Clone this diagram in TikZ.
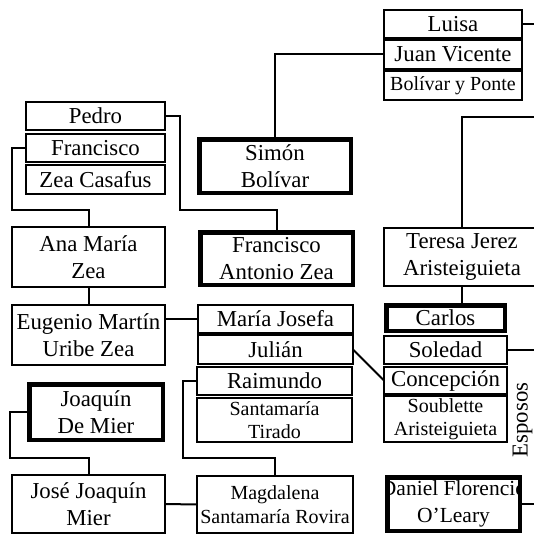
\documentclass[tikz,border=0pt]{standalone}
\usepackage{fontspec}
\setmainfont{Liberation Serif}
\begin{document}
\begin{tikzpicture}[x=1pt,y=-1pt,
  bx/.style 2 args={rectangle, inner sep=0pt, outer sep=0pt, minimum width=#1, minimum height=#2},
  txt/.style={font=\fontsize{22.8}{27}\selectfont, align=center, inner sep=0pt},
  small/.style={font=\fontsize{20}{23.5}\selectfont, align=center, inner sep=0pt},
  conn/.style={line width=2pt},
  thinb/.style={line width=1.4pt},
  medb/.style={line width=2.2pt},
  heavyb/.style={line width=4.5pt}]
\useasboundingbox (0,0) rectangle (534,535);
% boxes (text only; borders drawn afterwards)
\node[bx={138}{28}, label={[txt]center:Luisa}] (luisa) at (453,24) {};
\node[bx={138}{29}, label={[txt]center:Juan Vicente}] (juan) at (453,54.5) {};
\node[bx={138}{29}, label={[small]center:Bolívar y Ponte}] (bolp) at (453,85.5) {};
\node[bx={139}{28}, label={[txt]center:Pedro}] (pedro) at (95.5,116) {};
\node[bx={139}{28}, label={[txt]center:Francisco}] (fran) at (95.5,148) {};
\node[bx={139}{29}, label={[txt]center:Zea Casafus}] (zeac) at (95.5,179.5) {};
\node[bx={151.5}{53.5}, label={[txt]center:Simón\\Bolívar}] (simon) at (275,166) {};
\node[bx={153}{60}, label={[txt]center:Ana María\\Zea}] (ana) at (88.5,257) {};
\node[bx={152.5}{52.5}, label={[txt]center:Francisco\\Antonio Zea}] (fza) at (276.5,258.5) {};
\node[bx={156}{58}, label={[txt]center:Teresa Jerez\\Aristeiguieta}] (teresa) at (462,257) {};
\node[bx={153}{60}, label={[txt]center:Eugenio Martín\\Uribe Zea}] (eug) at (88.5,335) {};
\node[bx={155}{28}, label={[txt]center:María Josefa}] (mjos) at (275.5,319) {};
\node[bx={155}{29}, label={[txt]center:Julián}] (julian) at (275.5,349.5) {};
\node[bx={155}{28}, label={[txt]center:Raimundo}] (raim) at (274.5,381) {};
\node[bx={155}{44}, label={[small]center:Santamaría\\Tirado}] (sant) at (274.5,420) {};
\node[bx={118.5}{25.5}, label={[txt]center:Carlos}] (carlos) at (445.5,318) {};
\node[bx={123}{28}, label={[txt]center:Soledad}] (sol) at (445.5,350) {};
\node[bx={123}{27}, label={[txt]center:Concepción}] (conc) at (445.5,380.5) {};
\node[bx={123}{46}, label={[small]center:Soublette\\Aristeiguieta}] (soub) at (445.5,419) {};
\node[bx={133.5}{55.5}, label={[txt]center:Joaquín\\De Mier}] (joaq) at (96,412) {};
\node[bx={153}{58}, label={[txt]center:José Joaquín\\Mier}] (jose) at (88.5,504) {};
\node[bx={156}{57}] (magd) at (275,504.5) {};
\node[bx={132.5}{53.5}] (daniel) at (453.5,504) {};
\begin{scope}
  \clip (magd.north west) rectangle (magd.south east);
  \node[small] (magdtxt) at (magd.center) {Magdalena\\Santamaría Rovira};
\end{scope}
\begin{scope}
  \clip (daniel.north west) rectangle (daniel.south east);
  \node[txt, font=\fontsize{21.5}{27}\selectfont] (danieltxt) at (daniel.center) {Daniel Florencio\\O’Leary};
\end{scope}
\node[txt, rotate=90] (esp) at (522.5,420) {Esposos};
% borders
\foreach \n/\s in {luisa/thinb, juan/medb, bolp/thinb, pedro/thinb, fran/medb, zeac/thinb,
  simon/heavyb, ana/thinb, fza/heavyb, teresa/thinb, eug/thinb, mjos/thinb, julian/medb,
  raim/medb, sant/thinb, carlos/heavyb, sol/medb, conc/medb, soub/medb, joaq/heavyb,
  jose/thinb, magd/thinb, daniel/heavyb}
  \draw[\s] (\n.north west) rectangle (\n.south east);
% free ends
\coordinate (e1) at (534,24);
\coordinate (e2) at (534,117);
\coordinate (e3) at (534,350);
\coordinate (e4) at (534,504);
\coordinate (k1) at (180,210);
\coordinate (k2) at (12,210);
\coordinate (k3) at (183,458);
\coordinate (k4) at (10,458);
% connectors
\draw[conn] (luisa.east) -- (e1);
\draw[conn] (juan.west) -| (simon.north);
\draw[conn] (pedro.east) -| (k1) -| (fza.north);
\draw[conn] (fran.west) -| (k2) -| (ana.north);
\draw[conn] (ana.south) -- (eug.north);
\draw[conn] (eug.east |- mjos.west) -- (mjos.west);
\draw[conn] (julian.east) -- (conc.west);
\draw[conn] (raim.west) -| (k3) -| (magd.north);
\draw[conn] (joaq.west) -| (k4) -| (jose.north);
\draw[conn] (jose.east) -- (magd.west);
\draw[conn] (teresa.north) |- (e2);
\draw[conn] (teresa.south) -- (teresa.south |- carlos.north);
\draw[conn] (sol.east) -- (e3);
\draw[conn] (daniel.east) -- (e4);
\end{tikzpicture}
\end{document}
